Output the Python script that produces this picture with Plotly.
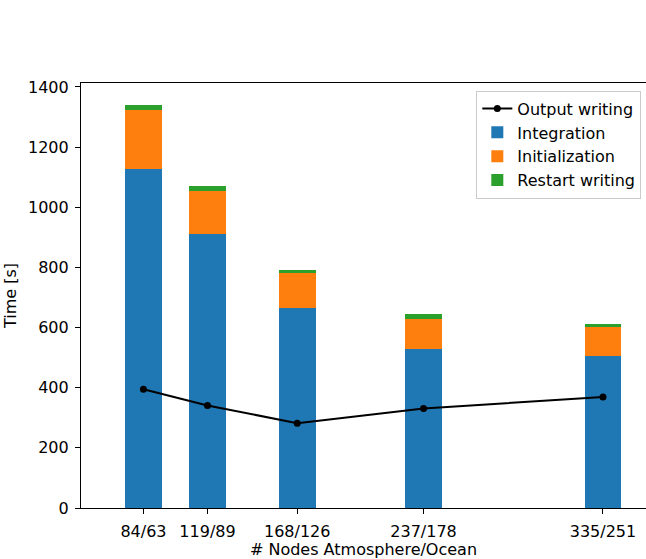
import plotly.graph_objects as go

nodes_atm = [84, 119, 168, 237, 335]
tick_labels = ["84/63", "119/89", "168/126", "237/178", "335/251"]
integration = [1127, 910, 666, 529, 507]
initialization = [196, 144, 115, 101, 95]
restart_writing = [18, 15, 9, 14, 10]
output_writing = [395, 341, 282, 331, 369]

BAR_W = 20
FONT = dict(family="DejaVu Sans", size=16, color="black")

fig = go.Figure()
fig.add_trace(go.Bar(x=nodes_atm, y=integration, width=BAR_W, name="Integration",
                     marker=dict(color="#1f77b4", line=dict(width=0)), legendrank=2))
fig.add_trace(go.Bar(x=nodes_atm, y=initialization, width=BAR_W, name="Initialization",
                     marker=dict(color="#ff7f0e", line=dict(width=0)), legendrank=3))
fig.add_trace(go.Bar(x=nodes_atm, y=restart_writing, width=BAR_W, name="Restart writing",
                     marker=dict(color="#2ca02c", line=dict(width=0)), legendrank=4))
fig.add_trace(go.Scatter(x=nodes_atm, y=output_writing, mode="lines+markers", name="Output writing",
                         line=dict(color="black", width=2), marker=dict(color="black", size=7),
                         legendrank=1))

fig.update_layout(
    width=646, height=559,
    margin=dict(l=80.5, r=0, t=83.3, b=50.7, autoexpand=False),
    barmode="stack",
    plot_bgcolor="white", paper_bgcolor="white",
    font=FONT,
    showlegend=True,
    legend=dict(x=0.9917, y=0.982, xanchor="right", yanchor="top",
                bgcolor="rgba(255,255,255,0.8)", bordercolor="#cccccc", borderwidth=1,
                traceorder="normal", font=FONT),
    xaxis=dict(range=[49.9, 358.5], tickmode="array", tickvals=nodes_atm, ticktext=tick_labels,
               showgrid=False, zeroline=False, showline=True, linecolor="black", linewidth=1.2,
               mirror=True, ticks="outside", ticklen=5, tickcolor="black", ticklabelstandoff=4,
               tickfont=FONT,
               title=dict(text="# Nodes Atmosphere/Ocean", standoff=2, font=FONT), automargin=False),
    yaxis=dict(range=[0, 1413], tickmode="array", tickvals=[0, 200, 400, 600, 800, 1000, 1200, 1400],
               showgrid=False, zeroline=False, showline=True, linecolor="black", linewidth=1.2,
               ticks="outside", ticklen=5, tickcolor="black", ticklabelstandoff=3,
               tickfont=FONT,
               title=dict(text="Time [s]", standoff=7, font=FONT), automargin=False),
)

fig.write_html("out.html")
